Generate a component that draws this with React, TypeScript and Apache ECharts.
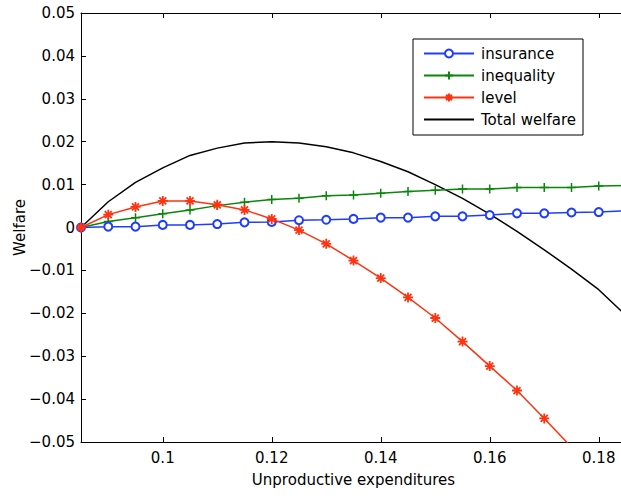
import React, { useEffect, useRef } from "react";
import * as echarts from "echarts";

const xValues = [0.085, 0.09, 0.095, 0.1, 0.105, 0.11, 0.115, 0.12, 0.125, 0.13, 0.135, 0.14, 0.145, 0.15, 0.155, 0.16, 0.165, 0.17, 0.175, 0.18, 0.185];
const insurance = [0, 0.0002, 0.0002, 0.0006, 0.0006, 0.0008, 0.0012, 0.0013, 0.0017, 0.0018, 0.002, 0.0023, 0.0023, 0.0026, 0.0026, 0.0029, 0.0033, 0.0033, 0.0035, 0.0036, 0.0039];
const inequality = [0, 0.0014, 0.0023, 0.0032, 0.0041, 0.0051, 0.0059, 0.0065, 0.0068, 0.0074, 0.0076, 0.008, 0.0084, 0.0087, 0.009, 0.009, 0.0093, 0.0093, 0.0093, 0.0097, 0.0098];
const level = [0, 0.003, 0.0048, 0.0062, 0.0062, 0.0053, 0.0041, 0.002, -0.0006, -0.0038, -0.0077, -0.0118, -0.0163, -0.0211, -0.0266, -0.0323, -0.038, -0.0445, -0.0512];
const totalWelfare = [0, 0.006, 0.0105, 0.0139, 0.0168, 0.0185, 0.0197, 0.02, 0.0197, 0.0188, 0.0174, 0.0154, 0.013, 0.01, 0.0068, 0.0031, -0.0009, -0.0052, -0.0097, -0.0145, -0.0205];
const xTicks = [0.1, 0.12, 0.14, 0.16, 0.18];
const seriesNames = ["insurance", "inequality", "level", "Total welfare"];

const FONT = "'DejaVu Sans', sans-serif";
const FS = 15;
const BLUE = "#1f3dff";
const GREEN = "#0a870a";
const RED = "#ff3310";

const pairs = (ys: number[]) => ys.map((y, i) => [xValues[i], y]);

const PLUS = "path://M0,5L10,5M5,0L5,10";
const STAR = "path://M0,5L10,5M5,0L5,10M1.5,1.5L8.5,8.5M1.5,8.5L8.5,1.5";

const yFmt = (v: number) => {
  if (Math.abs(v) < 1e-9) return "0";
  return (v < 0 ? "\u2212" : "") + Math.abs(v).toFixed(2);
};

export default function App() {
  const ref = useRef<HTMLDivElement>(null);
  useEffect(() => {
    if (!ref.current) return;
    const chart = echarts.init(ref.current, undefined, { renderer: "svg" });
    const axisCommon = {
      type: "value" as const,
      min: 0.085,
      max: 0.185,
      splitLine: { show: false },
      axisLine: { show: true, onZero: false, lineStyle: { color: "#000", width: 1 } },
    };
    chart.setOption({
      animation: false,
      backgroundColor: "#fff",
      grid: { left: 81, right: 1, top: 13, bottom: 56, containLabel: false, outerBoundsMode: "none" },
      xAxis: [
        {
          ...axisCommon,
          position: "bottom",
          name: "Unproductive expenditures",
          nameLocation: "middle",
          nameGap: 30,
          nameMoveOverlap: false,
          nameTextStyle: { fontSize: FS, color: "#000", fontFamily: FONT },
          axisTick: { show: true, inside: true, length: 5, customValues: xTicks, lineStyle: { color: "#000" } },
          axisLabel: {
            show: true,
            customValues: xTicks,
            margin: 8,
            fontSize: FS,
            color: "#000",
            fontFamily: FONT,
            formatter: (v: number) => String(Math.round(v * 100) / 100),
          },
        },
        {
          ...axisCommon,
          position: "top",
          axisTick: { show: true, inside: true, length: 5, customValues: xTicks, lineStyle: { color: "#000" } },
          axisLabel: { show: false },
        },
      ],
      yAxis: [
        {
          type: "value",
          min: -0.05,
          max: 0.05,
          interval: 0.01,
          position: "left",
          name: "Welfare",
          nameLocation: "middle",
          nameGap: 54,
          nameMoveOverlap: false,
          nameTextStyle: { fontSize: FS, color: "#000", fontFamily: FONT },
          splitLine: { show: false },
          axisLine: { show: true, onZero: false, lineStyle: { color: "#000", width: 1 } },
          axisTick: { show: true, inside: true, length: 5, lineStyle: { color: "#000" } },
          axisLabel: { margin: 6, fontSize: FS, color: "#000", fontFamily: FONT, formatter: yFmt },
        },
        {
          type: "value",
          min: -0.05,
          max: 0.05,
          interval: 0.01,
          position: "right",
          splitLine: { show: false },
          axisLine: { show: true, onZero: false, lineStyle: { color: "#000", width: 1 } },
          axisTick: { show: true, inside: true, length: 5, lineStyle: { color: "#000" } },
          axisLabel: { show: false },
        },
      ],
      legend: {
        orient: "vertical",
        left: 413,
        top: 39,
        itemWidth: 50,
        itemHeight: 10,
        itemGap: 7,
        padding: [7, 7, 8, 10],
        borderColor: "#000",
        borderWidth: 1,
        backgroundColor: "#fff",
        selectedMode: false,
        textStyle: { fontSize: FS, color: "#000", fontFamily: FONT, padding: [0, 0, 0, 2] },
        data: [
          seriesNames[0],
          seriesNames[1],
          seriesNames[2],
          { name: seriesNames[3], itemStyle: { opacity: 0 } },
        ],
      },
      series: [
        {
          name: seriesNames[0],
          type: "line",
          data: pairs(insurance),
          symbol: "emptyCircle",
          symbolSize: 8,
          lineStyle: { color: BLUE, width: 1.5 },
          itemStyle: { color: BLUE, borderColor: BLUE, borderWidth: 1.5 },
          z: 3,
        },
        {
          name: seriesNames[1],
          type: "line",
          data: pairs(inequality),
          symbol: PLUS,
          symbolSize: 9,
          lineStyle: { color: GREEN, width: 1.5 },
          itemStyle: { color: GREEN, borderColor: GREEN, borderWidth: 1.5 },
          z: 2,
        },
        {
          name: seriesNames[2],
          type: "line",
          data: pairs(level),
          symbol: STAR,
          symbolSize: 10,
          lineStyle: { color: RED, width: 1.5 },
          itemStyle: { color: RED, borderColor: RED, borderWidth: 1.8 },
          z: 4,
        },
        {
          name: seriesNames[3],
          type: "line",
          data: pairs(totalWelfare),
          showSymbol: false,
          symbol: "circle",
          lineStyle: { color: "#000", width: 1.5 },
          itemStyle: { color: "#000" },
          z: 1,
        },
      ],
    });
    return () => chart.dispose();
  }, []);
  return (
    <div
      ref={ref}
      style={{ position: "fixed", left: 0, top: 0, width: 627, height: 498, background: "#fff" }}
    />
  );
}
